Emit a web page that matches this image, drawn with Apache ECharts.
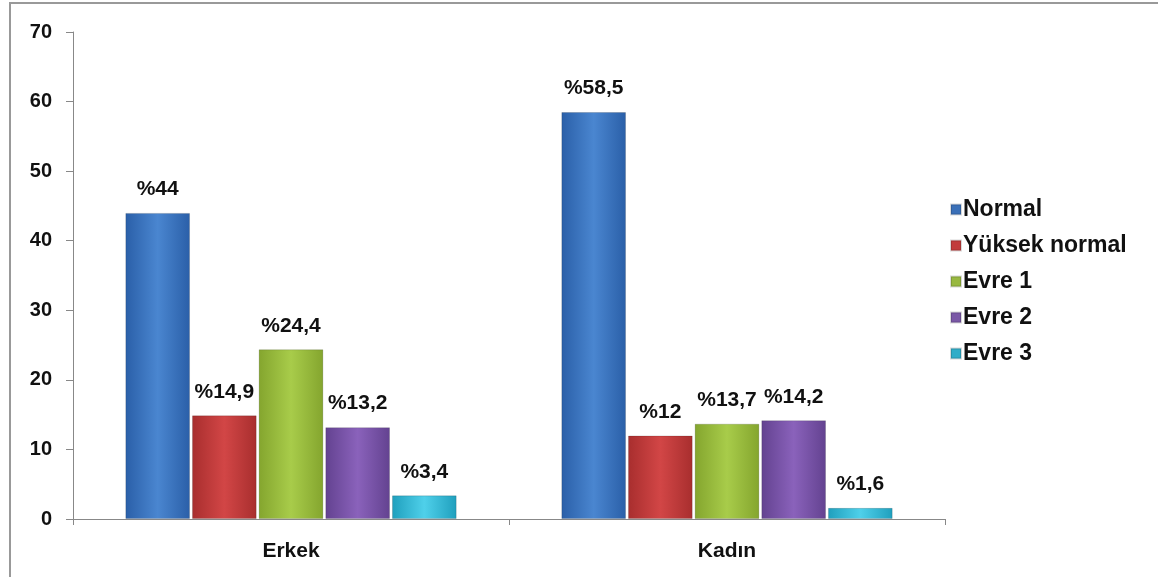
<!DOCTYPE html>
<html><head><meta charset="utf-8">
<script src="https://cdn.jsdelivr.net/npm/echarts@6/dist/echarts.min.js"></script>
<style>html,body{margin:0;padding:0;background:#fff}#c{width:1158px;height:577px}</style>
</head><body><div id="c"></div>
<script>
const categories = ['Erkek', 'Kadın'];
const seriesNames = ['Normal', 'Yüksek normal', 'Evre 1', 'Evre 2', 'Evre 3'];
const normal = [44, 58.5];
const yuksekNormal = [14.9, 12];
const evre1 = [24.4, 13.7];
const evre2 = [13.2, 14.2];
const evre3 = [3.4, 1.6];
const yTicks = [0, 10, 20, 30, 40, 50, 60, 70];

const values = [normal, yuksekNormal, evre1, evre2, evre3];
const colors = [
  ['#2a5fa8', '#4a86d0', '#2a5fa8'],
  ['#a82e2e', '#d24646', '#a82e2e'],
  ['#84a52e', '#a8cc4a', '#84a52e'],
  ['#634290', '#8a62bb', '#634290'],
  ['#1f9fbd', '#4fd0ea', '#1f9fbd']
];
const legendColors = ['#3a70b8', '#c23c3c', '#98b840', '#7a58a6', '#30adc8'];

function grad(c) {
  return new echarts.graphic.LinearGradient(0, 0, 1, 0, [
    {offset: 0, color: c[0]}, {offset: 0.5, color: c[1]}, {offset: 1, color: c[2]}
  ]);
}

const FONT = 'Liberation Sans, Arial, sans-serif';
const chart = echarts.init(document.getElementById('c'));
chart.setOption({
  animation: false,
  backgroundColor: '#fff',
  graphic: [{
    type: 'polyline', shape: {points: [[10, 577], [10, 3], [1158, 3]]},
    style: {stroke: '#999', lineWidth: 2, fill: null}
  }],
  grid: {left: 73, right: 213, top: 32, bottom: 58},
  legend: {
    orient: 'vertical', left: 945, top: 193, itemGap: 13,
    itemWidth: 10, itemHeight: 10, icon: 'rect',
    textStyle: {fontFamily: FONT, fontWeight: 'bold', fontSize: 23, color: '#111', padding: [0, 0, 0, -3]},
    data: seriesNames.map((n, i) => ({name: n, itemStyle: {color: legendColors[i]}}))
  },
  xAxis: {
    type: 'category', data: categories,
    axisLine: {lineStyle: {color: '#888'}},
    axisTick: {show: true, length: 6, lineStyle: {color: '#888'}},
    axisLabel: {fontFamily: FONT, fontWeight: 'bold', fontSize: 21, color: '#111', margin: 22}
  },
  yAxis: {
    type: 'value', min: yTicks[0], max: yTicks[yTicks.length - 1], interval: 10,
    axisLine: {show: true, lineStyle: {color: '#888'}},
    axisTick: {show: true, length: 7, lineStyle: {color: '#888'}},
    splitLine: {show: false},
    axisLabel: {fontFamily: FONT, fontWeight: 'bold', fontSize: 20, color: '#111', margin: 21}
  },
  series: seriesNames.map((n, i) => ({
    name: n, type: 'bar', data: values[i],
    barGap: '3%', barCategoryGap: '24%',
    itemStyle: {color: grad(colors[i]), borderColor: 'rgba(0,0,0,0.15)', borderWidth: 1},
    label: {
      show: true, position: 'top', distance: 13,
      fontFamily: FONT, fontWeight: 'bold', fontSize: 21, color: '#111',
      formatter: p => '%' + String(p.value).replace('.', ',')
    }
  }))
});
</script></body></html>
